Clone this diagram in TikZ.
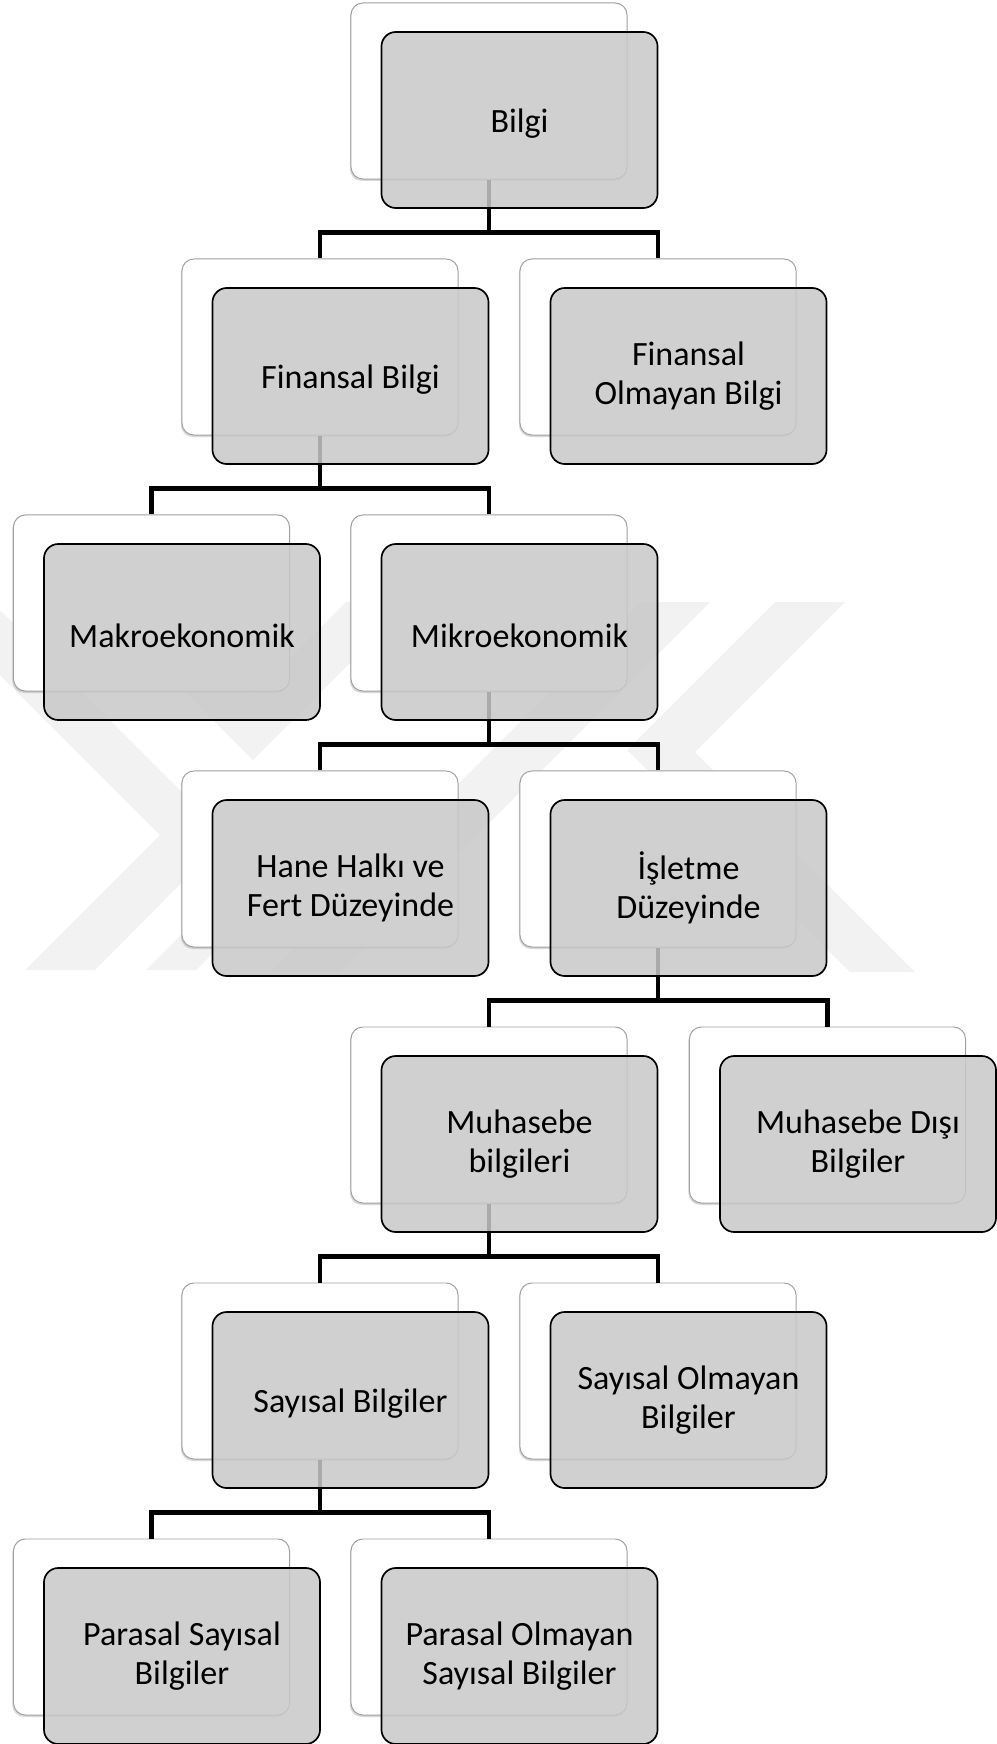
\documentclass[tikz,border=0pt]{standalone}
\usepackage{fontspec}
\setmainfont{Carlito}
\usetikzlibrary{shadows}
\definecolor{box_gray}{RGB}{200,200,200}
\definecolor{edge_gray}{RGB}{160,160,160}
\definecolor{mark_gray}{RGB}{242,242,242}

\begin{document}
\begin{tikzpicture}[x=0.025cm,y=-0.025cm]
    \tikzstyle{back}=[draw=edge_gray, line width=0.7pt, fill=white, rounded corners=0.3cm, minimum width=6.9cm, minimum height=4.4cm, inner sep=0pt, drop shadow={shadow xshift=-0.8pt,shadow yshift=-1.4pt,opacity=0.3}]
    \tikzstyle{front}=[draw=black, line width=1.2pt, fill=box_gray, fill opacity=0.85, text opacity=1, rounded corners=0.36cm, minimum width=6.9cm, minimum height=4.4cm, inner sep=0pt, align=center, font=\fontsize{24.2}{27.5}\selectfont, execute at begin node={\rule{0pt}{22pt}}]
    \tikzstyle{link}=[line width=3.4pt, to path={-- ++(0,53) -| (\tikztotarget)}]

    \useasboundingbox (0,0) rectangle (996,1744);

    % watermark
    \begin{scope}
    \clip (0,0) rectangle (996,1744);
    \fill[mark_gray] (0,610) -- (227,837) -- (95,970) -- (25,970) -- (160,835) -- (-65,610) -- cycle;
    \fill[mark_gray] (95,602) -- (160,602) -- (253,695) -- (346,602) -- (411,602) -- (253,760) -- cycle;
    \fill[mark_gray] (146,970) -- (196,970) -- (366,800) -- (316,800) -- cycle;
    \fill[mark_gray] (640,602) -- (710,602) -- (340,972) -- (270,972) -- cycle;
    \fill[mark_gray] (775,602) -- (845,602) -- (695,752) -- (915,972) -- (850,972) -- (627,750) -- cycle;
    \end{scope}

    \node[back] (bilgi)      at (489,91)    {};
    \node[back] (finans)     at (320,347)   {};
    \node[back] (nonfin)     at (658,347)   {};
    \node[back] (makro)      at (151.5,603) {};
    \node[back] (mikro)      at (489,603)   {};
    \node[back] (hane)       at (320,859)   {};
    \node[back] (isletme)    at (658,859)   {};
    \node[back] (muh)        at (489,1115)  {};
    \node[back] (muhdisi)    at (827.5,1115){};
    \node[back] (sayisal)    at (320,1371)  {};
    \node[back] (sayisalolm) at (658,1371)  {};
    \node[back] (parasal)    at (151.5,1627){};
    \node[back] (parasalolm) at (489,1627)  {};

    \path
     (bilgi.south)   edge[link] (finans.north)
     (bilgi.south)   edge[link] (nonfin.north)
     (finans.south)  edge[link] (makro.north)
     (finans.south)  edge[link] (mikro.north)
     (mikro.south)   edge[link] (hane.north)
     (mikro.south)   edge[link] (isletme.north)
     (isletme.south) edge[link] (muh.north)
     (isletme.south) edge[link] (muhdisi.north)
     (muh.south)     edge[link] (sayisal.north)
     (muh.south)     edge[link] (sayisalolm.north)
     (sayisal.south) edge[link] (parasal.north)
     (sayisal.south) edge[link] (parasalolm.north)
     ;

    \node[front] (bilgiT)      at (519.5,120)  {Bilgi};
    \node[front] (finansT)     at (350.5,376)  {Finansal Bilgi};
    \node[front] (nonfinT)     at (688.5,376)  {Finansal\\Olmayan Bilgi};
    \node[front] (makroT)      at (182,632)    {Makroekonomik};
    \node[front] (mikroT)      at (519.5,632)  {Mikroekonomik};
    \node[front] (haneT)       at (350.5,888)  {Hane Halkı ve\\Fert Düzeyinde};
    \node[front] (isletmeT)    at (688.5,888)  {İşletme\\Düzeyinde};
    \node[front] (muhT)        at (519.5,1144) {Muhasebe\\bilgileri};
    \node[front] (muhdisiT)    at (858,1144)   {Muhasebe Dışı\\Bilgiler};
    \node[front] (sayisalT)    at (350.5,1400) {Sayısal Bilgiler};
    \node[front] (sayisalolmT) at (688.5,1400) {Sayısal Olmayan\\Bilgiler};
    \node[front] (parasalT)    at (182,1656)   {Parasal Sayısal\\Bilgiler};
    \node[front] (parasalolmT) at (519.5,1656) {Parasal Olmayan\\Sayısal Bilgiler};
\end{tikzpicture}
\end{document}
